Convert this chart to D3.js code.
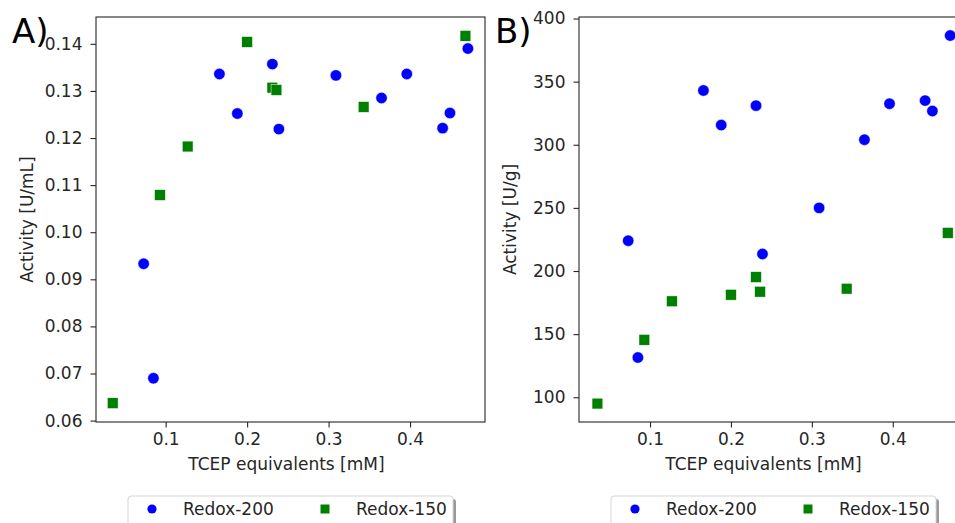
<!DOCTYPE html>
<html>
<head>
<meta charset="utf-8">
<script src="https://cdn.jsdelivr.net/npm/d3@7"></script>
<style>
  body { margin: 0; background: #fff; }
  svg { display: block; font-family: "DejaVu Sans", sans-serif; }
</style>
</head>
<body>
<div id="chart"></div>
<script>
// TCEP equivalents [mM]
const xRedox200 = [0.073, 0.085, 0.166, 0.188, 0.231, 0.239, 0.309, 0.365, 0.396, 0.440, 0.449, 0.471];
const xRedox150 = [0.035, 0.093, 0.127, 0.200, 0.231, 0.236, 0.343, 0.468];

// Activity [U/mL]
const actMlRedox200 = [0.0933, 0.0690, 0.1336, 0.1252, 0.1357, 0.1219, 0.1333, 0.1285, 0.1336, 0.1221, 0.1253, 0.1390];
const actMlRedox150 = [0.0637, 0.1079, 0.1182, 0.1404, 0.1307, 0.1302, 0.1266, 0.1417];

// Activity [U/g]
const actGRedox200 = [224, 131.5, 343, 315.6, 331, 213.5, 250, 304, 332.5, 335, 326.7, 386.5];
const actGRedox150 = [95, 145.5, 176, 181.2, 195.2, 183.6, 186, 230.2];

const seriesNames = ["Redox-200", "Redox-150"];
const xTicks = [0.1, 0.2, 0.3, 0.4];
const yTicksA = [0.06, 0.07, 0.08, 0.09, 0.10, 0.11, 0.12, 0.13, 0.14];
const yTicksB = [100, 150, 200, 250, 300, 350, 400];

const width = 955, height = 523;
const fontSize = 17;

const svg = d3.select("#chart").append("svg")
  .attr("width", width)
  .attr("height", height);

const panels = [
  { label: "A)", left: 96, ylabel: "Activity [U/mL]", y200: actMlRedox200, y150: actMlRedox150,
    yDomain: [0.0597, 0.1457], yTicks: yTicksA, fmt: d3.format(".2f"), xDomain: [0.0145, 0.492] },
  { label: "B)", left: 579, ylabel: "Activity [U/g]", y200: actGRedox200, y150: actGRedox150,
    yDomain: [80.4, 401.2], yTicks: yTicksB, fmt: d3.format("d"), xDomain: [0.0122, 0.493] }
];

const plotTop = 17, plotBottom = 422, panelW = 389;

panels.forEach(p => {
  const g = svg.append("g");
  const x = d3.scaleLinear().domain(p.xDomain).range([p.left, p.left + panelW]);
  const y = d3.scaleLinear().domain(p.yDomain).range([plotBottom, plotTop]);

  // points
  g.selectAll(".c").data(d3.zip(xRedox200, p.y200)).enter()
    .append("circle")
    .attr("cx", d => x(d[0]))
    .attr("cy", d => y(d[1]))
    .attr("r", 5.7)
    .style("fill", "#0000ff")
    .style("stroke", "#fff")
    .style("stroke-width", 0.5);

  const s = 10.8;
  g.selectAll(".s").data(d3.zip(xRedox150, p.y150)).enter()
    .append("rect")
    .attr("x", d => x(d[0]) - s / 2)
    .attr("y", d => y(d[1]) - s / 2)
    .attr("width", s)
    .attr("height", s)
    .style("fill", "#008000")
    .style("stroke", "#fff")
    .style("stroke-width", 0.5);

  // frame
  g.append("rect")
    .attr("x", p.left).attr("y", plotTop)
    .attr("width", panelW).attr("height", plotBottom - plotTop)
    .style("fill", "none")
    .style("stroke", "#262626")
    .style("stroke-width", 1.1);

  const xAxis = g.append("g")
    .attr("transform", `translate(0,${plotBottom})`)
    .call(d3.axisBottom(x).tickValues(xTicks).tickFormat(d3.format(".1f")).tickSize(5.5).tickPadding(5));
  const yAxis = g.append("g")
    .attr("transform", `translate(${p.left},0)`)
    .call(d3.axisLeft(y).tickValues(p.yTicks).tickFormat(p.fmt).tickSize(5.5).tickPadding(8));
  [xAxis, yAxis].forEach(a => {
    a.select(".domain").remove();
    a.selectAll("line").style("stroke", "#262626").style("stroke-width", 1.1);
    a.selectAll("text").style("font-size", fontSize + "px").style("fill", "#262626")
      .style("font-family", "DejaVu Sans");
  });

  // axis labels
  g.append("text")
    .attr("x", p.left + panelW / 2 - 4 + (p.left > 300 ? -6 : 0))
    .attr("y", 470)
    .attr("text-anchor", "middle")
    .style("font-size", fontSize + "px")
    .style("fill", "#262626")
    .text("TCEP equivalents [mM]");

  g.append("text")
    .attr("transform", `translate(${p.left - 63},${(plotTop + plotBottom) / 2}) rotate(-90)`)
    .attr("text-anchor", "middle")
    .style("font-size", fontSize + "px")
    .style("fill", "#262626")
    .text(p.ylabel);

  // panel label
  g.append("text")
    .attr("x", p.left - 84)
    .attr("y", 43)
    .style("font-size", "34px")
    .style("fill", "#000")
    .text(p.label);

  // legend
  const lx = p.left + 32, ly = 496, lw = 325, lh = 32;
  g.append("rect")
    .attr("x", lx + 3).attr("y", ly + 3).attr("width", lw).attr("height", lh)
    .attr("rx", 3)
    .style("fill", "#999");
  g.append("rect")
    .attr("x", lx).attr("y", ly).attr("width", lw).attr("height", lh)
    .attr("rx", 3)
    .style("fill", "#fff")
    .style("stroke", "#d6d6d6")
    .style("stroke-width", 1);
  const leg = g.selectAll(".leg").data(seriesNames).enter().append("g")
    .attr("transform", (d, i) => `translate(${lx + 24 + i * 173},${ly + 13})`);
  leg.each(function(d, i) {
    const el = d3.select(this);
    if (i === 0) {
      el.append("circle").attr("r", 4.6).style("fill", "#0000ff");
    } else {
      el.append("rect").attr("x", -4.5).attr("y", -4.5).attr("width", 9).attr("height", 9)
        .style("fill", "#008000");
    }
    el.append("text")
      .attr("x", 31)
      .attr("y", 6)
      .style("font-size", fontSize + "px")
      .style("fill", "#262626")
      .text(d);
  });
});
</script>
</body>
</html>
